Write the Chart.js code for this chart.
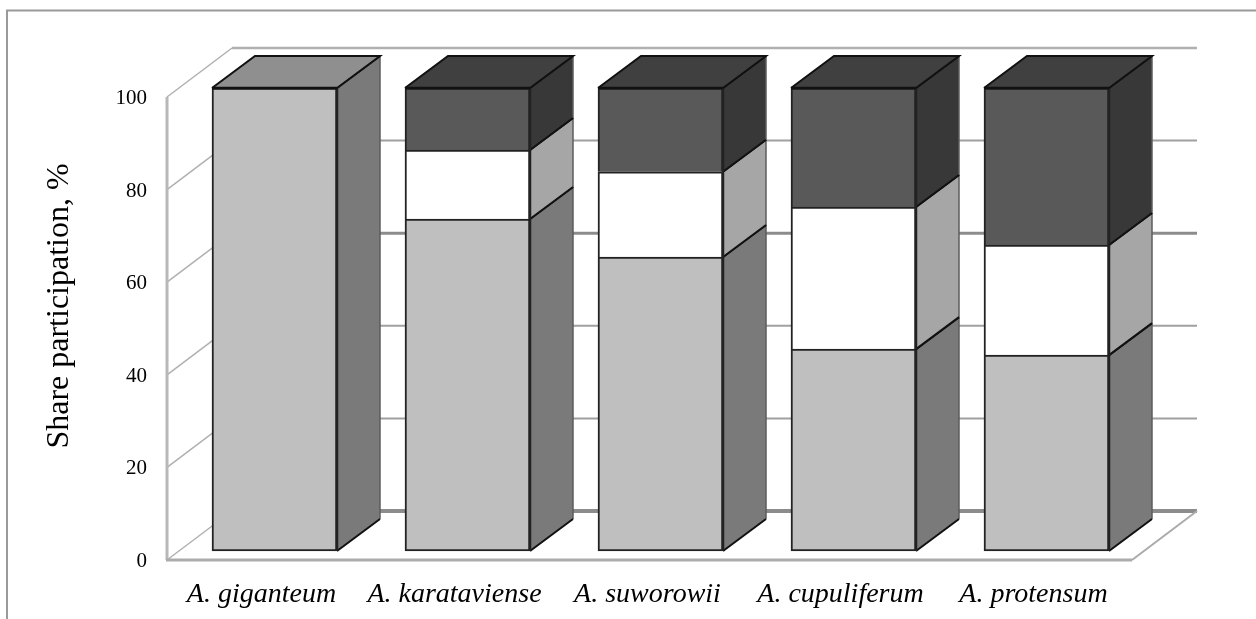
<!DOCTYPE html>
<html>
<head>
<meta charset="utf-8">
<style>
  html, body { margin: 0; padding: 0; background: #fff; }
  #wrap { width: 1256px; height: 619px; }
</style>
<script src="https://cdn.jsdelivr.net/npm/chart.js@4"></script>
</head>
<body>
<div id="wrap"><canvas id="chart"></canvas></div>
<script>
const species = ["A. giganteum", "A. karataviense", "A. suworowii", "A. cupuliferum", "A. protensum"];
const lowerShare = [100, 71.7, 63.5, 43.6, 42.3];
const middleShare = [0, 14.9, 18.4, 30.7, 23.8];
const upperShare = [0, 13.4, 18.1, 25.7, 33.9];

// front, side, top shades of each stack part
const shades = [
  { front: "#bfbfbf", side: "#7a7a7a", top: "#8f8f8f" },
  { front: "#ffffff", side: "#a6a6a6", top: "#bfbfbf" },
  { front: "#595959", side: "#383838", top: "#404040" }
];
const SERIF = "'Liberation Serif', 'Times New Roman', serif";

// the picture is a fake 3D column chart, depth offsets in px
const wallDepth = { x: 65, y: -49 };
const barDepth = { x: 43, y: -32 };
const barShift = { x: 11, y: -9 };
const gridStyle = { 100: [2.5, "#b0b0b0"], 80: [2, "#a0a0a0"], 60: [3, "#8c8c8c"], 40: [2, "#a0a0a0"], 20: [2, "#a0a0a0"], 0: [4, "#8c8c8c"] };

function line(ctx, pts, width, color) {
  ctx.beginPath();
  pts.forEach((p, i) => i ? ctx.lineTo(p[0], p[1]) : ctx.moveTo(p[0], p[1]));
  ctx.lineWidth = width;
  ctx.strokeStyle = color;
  ctx.stroke();
}

function fillPoly(ctx, pts, fill) {
  ctx.beginPath();
  pts.forEach((p, i) => i ? ctx.lineTo(p[0], p[1]) : ctx.moveTo(p[0], p[1]));
  ctx.closePath();
  ctx.fillStyle = fill;
  ctx.fill();
}

const walls = {
  id: "walls",
  beforeDatasetsDraw(chart) {
    const { ctx, chartArea: a, scales: { y } } = chart;
    ctx.save();
    // outer frame is cut at the right and bottom
    line(ctx, [[7, 619], [7, 10.5], [1256, 10.5]], 2, "#9a9a9a");
    y.ticks.forEach(t => {
      const py = y.getPixelForValue(t.value);
      const [w, c] = gridStyle[t.value];
      line(ctx, [[a.left, py], [a.left + wallDepth.x, py + wallDepth.y]], 1.5, "#b0b0b0");
      line(ctx, [[a.left + wallDepth.x, py + wallDepth.y], [a.right + wallDepth.x, py + wallDepth.y]], w, c);
    });
    line(ctx, [[a.left, a.top], [a.left, a.bottom]], 3, "#b8b8b8");
    line(ctx, [[a.left - 1, a.bottom], [a.right, a.bottom]], 3, "#ababab");
    line(ctx, [[a.right, a.bottom], [a.right + wallDepth.x, a.bottom + wallDepth.y]], 2, "#ababab");
    ctx.restore();

    // bars sit further in than the axis they are read from
    ctx.save();
    ctx.translate(barShift.x, barShift.y);
  },
  afterDatasetsDraw(chart) {
    const { ctx } = chart;
    const dx = barDepth.x, dy = barDepth.y;
    chart.data.datasets.forEach((ds, di) => {
      chart.getDatasetMeta(di).data.forEach((bar, i) => {
        if (!ds.data[i]) return;
        const r = bar.x + bar.width / 2, l = bar.x - bar.width / 2;
        fillPoly(ctx, [[r, bar.y], [r + dx, bar.y + dy], [r + dx, bar.base + dy], [r, bar.base]], shades[di].side);
        line(ctx, [[r + dx, bar.y + dy], [r + dx, bar.base + dy]], 1.5, "#5c5c5c");
        line(ctx, [[r, bar.y], [r + dx, bar.y + dy]], 2, "#111");
        line(ctx, [[r, bar.base], [r + dx, bar.base + dy]], 2, "#111");
        line(ctx, [[r, bar.y], [r, bar.base]], 2.5, "#222");
        const isTop = !chart.data.datasets.slice(di + 1).some(d => d.data[i]);
        if (isTop) {
          fillPoly(ctx, [[l, bar.y], [l + dx, bar.y + dy], [r + dx, bar.y + dy], [r, bar.y]], shades[di].top);
          line(ctx, [[r, bar.y], [r + dx, bar.y + dy], [l + dx, bar.y + dy], [l, bar.y]], 2, "#111");
          line(ctx, [[l, bar.y], [r, bar.y]], 2.5, "#111");
        }
      });
    });
    ctx.restore();

    // axis title sits above the middle of the axis in the picture
    ctx.save();
    ctx.translate(60, 306);
    ctx.rotate(-Math.PI / 2);
    ctx.font = "32px " + SERIF;
    ctx.fillStyle = "#000";
    ctx.textAlign = "center";
    ctx.textBaseline = "middle";
    ctx.fillText("Share participation, %", 0, 0);
    ctx.restore();
  }
};

new Chart(document.getElementById("chart"), {
  type: "bar",
  data: {
    labels: species,
    datasets: [
      { label: "Lower", data: lowerShare, backgroundColor: shades[0].front, borderWidth: { top: 2, left: 2, right: 2, bottom: 2 } },
      { label: "Middle", data: middleShare, backgroundColor: shades[1].front, borderWidth: { top: 2, left: 2, right: 2, bottom: 0 } },
      { label: "Upper", data: upperShare, backgroundColor: shades[2].front, borderWidth: { top: 2, left: 2, right: 2, bottom: 0 } }
    ].map(d => ({ ...d, borderColor: "#222", borderSkipped: false, barThickness: 125, clip: false }))
  },
  plugins: [walls],
  options: {
    responsive: true,
    maintainAspectRatio: false,
    animation: false,
    layout: { padding: { top: 97, right: 124, left: 0, bottom: 0 } },
    plugins: { legend: { display: false }, tooltip: { enabled: false } },
    scales: {
      x: {
        stacked: true,
        grid: { display: false },
        border: { display: false },
        ticks: { color: "#000", padding: 10, labelOffset: -2, maxRotation: 0, autoSkip: false, font: { family: SERIF, size: 28, style: "italic" } },
        afterFit: s => { s.height = 59; }
      },
      y: {
        stacked: true,
        min: 0,
        max: 100,
        grid: { display: false },
        border: { display: false },
        ticks: { color: "#000", stepSize: 20, padding: 12, labelOffset: 1.5, font: { family: SERIF, size: 21 } },
        afterFit: s => { s.width = 167; }
      }
    }
  }
});
</script>
</body>
</html>
